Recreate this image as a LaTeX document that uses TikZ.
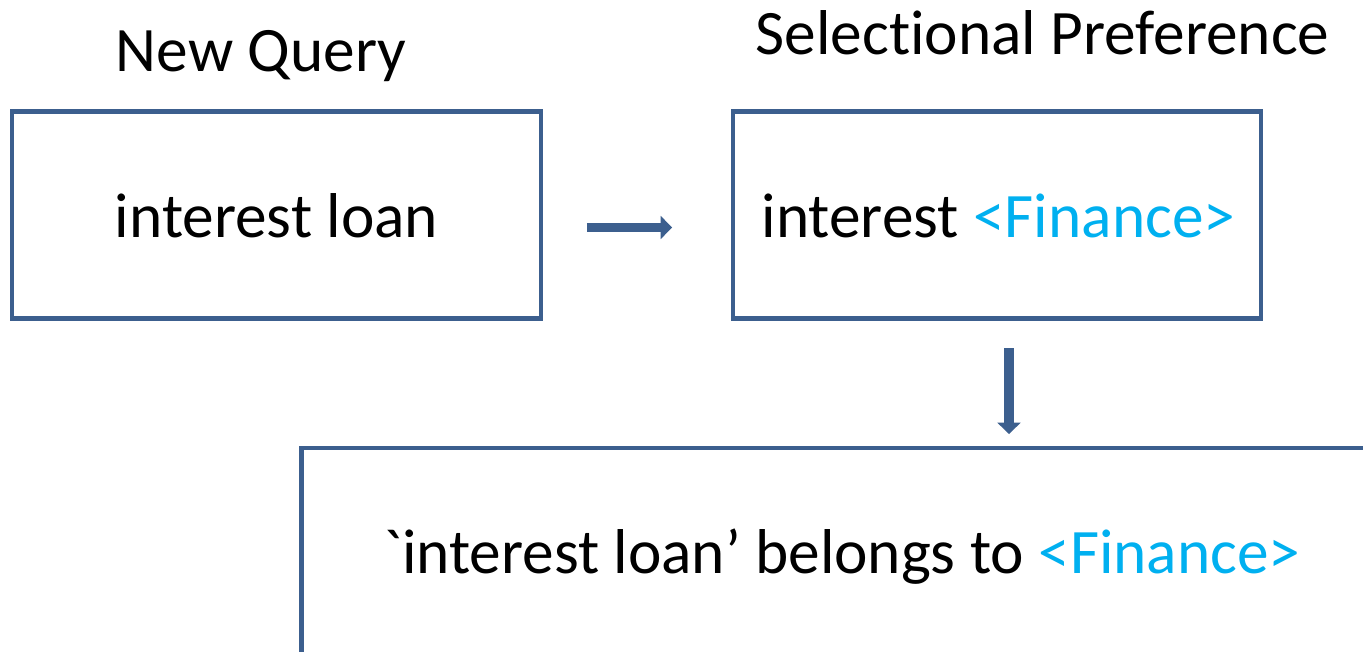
\documentclass[tikz,border=0pt]{standalone}
\usepackage{fontspec}
\setmainfont{Carlito}[Ligatures={TeXOff,NoCommon,NoContextual,NoRare},Contextuals=NoAlternate]
\usetikzlibrary{arrows.meta}
\definecolor{boxblue}{HTML}{3C5F8E}
\definecolor{catblue}{HTML}{00B0F0}
\begin{document}
\begin{tikzpicture}[x=0.75pt,y=-0.75pt,
  box/.style={draw=boxblue,line width=3.7pt,rectangle,inner sep=0pt},
  label/.style={font=\fontsize{47.5}{56}\selectfont,anchor=base,inner sep=0pt},
  blockarrow/.style={draw=boxblue,line width=6.9pt,
    -{Triangle[width=17pt,length=8.5pt]}}]
  \clip (0,0) rectangle (1363,652);
  \fill[white] (0,0) rectangle (1363,652);

  % headings
  \node[label] (hq) at (261,72) {New Query};
  \node[label] (hs) at (1042.5,55) {Selec\kern0pt tional Preference};

  % boxes
  \node[box,minimum width=396.75pt,minimum height=155.6pt] (query) at (276.5,215) {};
  \node[box,minimum width=396pt,minimum height=155.6pt] (pref) at (997,215) {};
  \node[box,minimum width=899pt,minimum height=264pt] (result) at (900.5,624) {};

  % box texts
  \node[label] (tq) at (276.5,238) {interest loan};
  \node[label] (tp) at (998.5,238) {interest \textcolor{catblue}{<Finance>}};
  \node[label] (tr) at (842,573) {\char96 interest loan’ belongs to \textcolor{catblue}{<Finance>}};

  % arrows between the boxes
  \draw[blockarrow] ([shift={(43.5,12.5)}]query.east) -- ([shift={(-58.5,12.5)}]pref.west);
  \coordinate (down) at (1009,348);
  \draw[blockarrow] (down) -- ([shift={(0,-11.5)}]down |- result.north);
\end{tikzpicture}
\end{document}
